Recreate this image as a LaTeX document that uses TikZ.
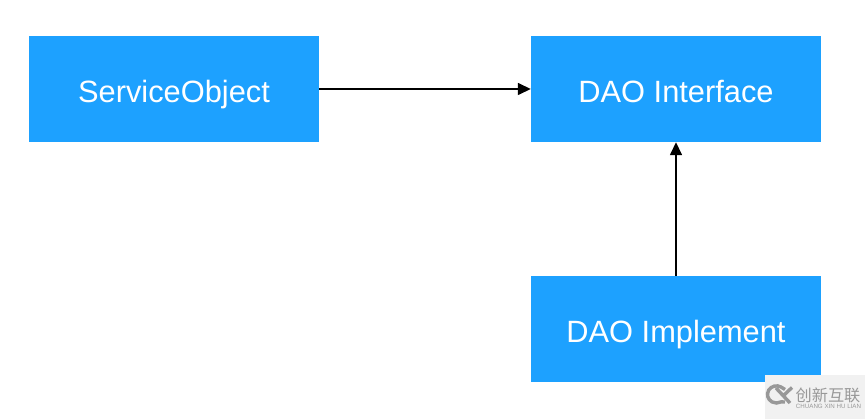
\documentclass[tikz,border=0pt]{standalone}
\usepackage{fontspec}
\setmainfont{Liberation Sans}
\newfontfamily\cjk{Noto Sans CJK SC}
\usetikzlibrary{arrows.meta}
\definecolor{boxblue}{HTML}{1DA1FF}
\definecolor{markgray}{HTML}{F1F1F1}
\definecolor{marktext}{HTML}{989898}
\tikzset{
  bluebox/.style={fill=boxblue,text=white,minimum width=290pt,minimum height=106pt,inner sep=0pt,text height=27pt,text depth=0pt,font=\fontsize{30.8}{36}\selectfont},
  link/.style={draw=black,line width=1.5pt,-{Triangle[length=13pt,width=12pt]},shorten >=0pt}
}
\begin{document}
\begin{tikzpicture}[x=1pt,y=-1pt]
\useasboundingbox (0,0) rectangle (865,419);
\fill[white] (0,0) rectangle (865,419);
\node[bluebox] (svc) at (174,89) {ServiceObject};
\node[bluebox] (dao) at (676,89) {DAO Interface};
\node[bluebox] (impl) at (676,329) {DAO Implement};
\draw[link] (svc.east) -- (dao.west);
\draw[link] (impl.north) -- (dao.south);
% watermark
\fill[markgray] (765,375) rectangle (865,419);
\draw[marktext,line width=3.4pt] (785,389.5) -- (781,387) arc (60:300:9pt and 8.6pt) -- (785,402);
\draw[marktext,line width=3.4pt] (776,388) -- (790,403) (792,387.5) -- (783,396);
\node[text=marktext,font=\cjk\fontsize{16.2}{18}\selectfont,inner sep=0pt] (markcn) at (828,395) {创新互联};
\node[text=marktext,font=\fontsize{6.2}{7}\selectfont,inner sep=0pt] (markla) at (828.5,406.5) {CHUANG XIN HU LIAN};
\end{tikzpicture}
\end{document}
